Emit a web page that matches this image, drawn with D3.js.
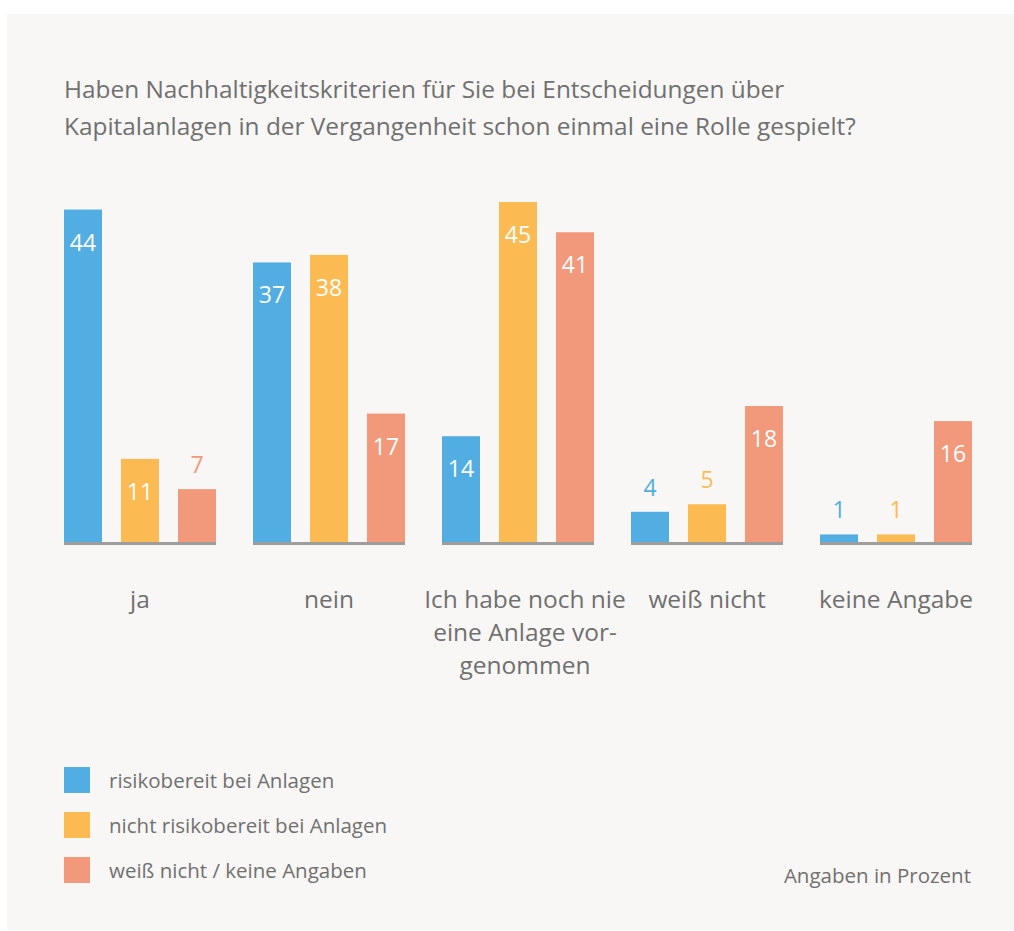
<!DOCTYPE html>
<html>
<head>
<meta charset="utf-8">
<script src="https://cdn.jsdelivr.net/npm/d3@7"></script>
<style>
  body { margin: 0; background: #ffffff; }
  text { font-family: "Open Sans", Lato, sans-serif; }
</style>
</head>
<body>
<div class="chart"></div>
<script>
const categories = ["ja", "nein", "Ich habe noch nie|eine Anlage vor-|genommen", "weiß nicht", "keine Angabe"];
const seriesNames = ["risikobereit bei Anlagen", "nicht risikobereit bei Anlagen", "weiß nicht / keine Angaben"];
const risikobereit = [44, 37, 14, 4, 1];
const nichtRisikobereit = [11, 38, 45, 5, 1];
const weissNicht = [7, 17, 41, 18, 16];
const colors = ["#52aee2", "#fcbb52", "#f2997b"];

const titleLines = ["Haben Nachhaltigkeitskriterien für Sie bei Entscheidungen über",
                    "Kapitalanlagen in der Vergangenheit schon einmal eine Rolle gespielt?"];

function main(){
    const width = 1014;
    const height = 931;
    const textColor = "#707070";

    const svg = d3.select('.chart')
        .append('svg')
        .attr('width', width)
        .attr('height', height);

    svg.append("rect")
        .attr("x", 7).attr("y", 14)
        .attr("width", width - 7).attr("height", 916)
        .attr("fill", "#f8f7f5");

    svg.selectAll(".title")
        .data(titleLines)
        .enter()
        .append("text")
        .attr("class", "title")
        .attr("x", 64)
        .attr("y", (d, i) => 98 + i * 37)
        .attr("font-size", "24.4px")
        .attr("fill", textColor)
        .text(d => d);

    // groups and bars inside groups
    const x0 = d3.scaleBand()
        .domain(d3.range(categories.length))
        .range([64, 64 + 189 * 5]);
    const x1 = d3.scaleBand()
        .domain([0, 1, 2])
        .range([0, 152])
        .paddingInner(1 / 3);
    const y = d3.scaleLinear()
        .domain([0, 45])
        .range([542, 202]);

    const rows = categories.map((c, i) => ({
        cat: c, i: i,
        values: [risikobereit[i], nichtRisikobereit[i], weissNicht[i]]
    }));

    const g = svg.selectAll(".group")
        .data(rows)
        .enter()
        .append("g")
        .attr("class", "group")
        .attr("transform", d => "translate(" + x0(d.i) + ",0)");

    g.selectAll("rect")
        .data(d => d.values)
        .enter()
        .append("rect")
        .attr("x", (d, j) => x1(j))
        .attr("y", d => y(d))
        .attr("width", x1.bandwidth())
        .attr("height", d => y(0) - y(d))
        .attr("fill", (d, j) => colors[j]);

    // baseline
    g.append("rect")
        .attr("x", 0)
        .attr("y", y(0))
        .attr("width", 152)
        .attr("height", 3)
        .attr("fill", "#9d9d9d");

    g.selectAll(".val")
        .data(d => d.values)
        .enter()
        .append("text")
        .attr("class", "val")
        .attr("x", (d, j) => x1(j) + x1.bandwidth() / 2)
        .attr("y", function(d){
            if (d >= 10) return y(d) + 41;
            else return y(d) - 16;
        })
        .attr("text-anchor", "middle")
        .attr("font-size", "23px")
        .attr("fill", (d, j) => d >= 10 ? "#ffffff" : colors[j])
        .text(d => d);

    // category labels
    g.each(function(d){
        const lines = d.cat.split("|");
        d3.select(this).selectAll(".cat")
            .data(lines)
            .enter()
            .append("text")
            .attr("class", "cat")
            .attr("x", 76 + (lines.length > 1 ? 7 : 0))
            .attr("y", (l, k) => 608 + k * 33)
            .attr("text-anchor", "middle")
            .attr("font-size", "24.5px")
            .attr("fill", textColor)
            .text(l => l);
    });

    // legend
    const legend = svg.selectAll(".legend")
        .data(seriesNames)
        .enter()
        .append("g")
        .attr("class", "legend")
        .attr("transform", (d, i) => "translate(64," + (767 + i * 45) + ")");
    legend.append("rect")
        .attr("width", 26).attr("height", 26)
        .attr("fill", (d, i) => colors[i]);
    legend.append("text")
        .attr("x", 45).attr("y", 21)
        .attr("font-size", "20.5px")
        .attr("fill", textColor)
        .text(d => d);

    svg.append("text")
        .attr("x", 971).attr("y", 883)
        .attr("text-anchor", "end")
        .attr("font-size", "20.5px")
        .attr("fill", textColor)
        .text("Angaben in Prozent");
}

main();
</script>
</body>
</html>
